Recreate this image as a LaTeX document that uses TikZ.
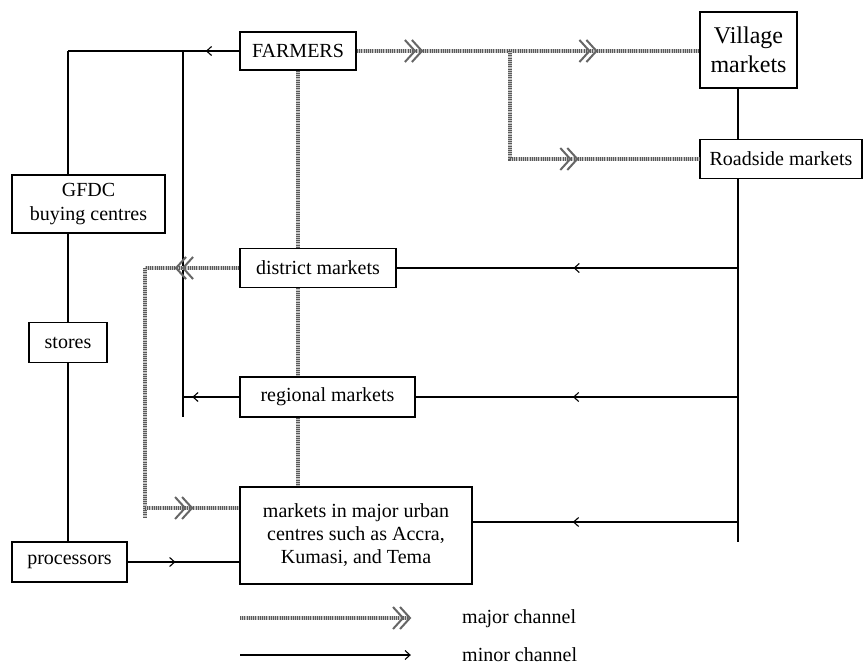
\documentclass[tikz,border=0pt]{standalone}
\usepackage{fontspec}
\setmainfont{Liberation Serif}
\usetikzlibrary{decorations.markings,arrows.meta}
\tikzset{
 box/.style={draw, line width=1.8pt, inner sep=0pt, align=center, font=\fontsize{20}{24}\selectfont},
 minor/.style={draw=black, line width=1.6pt},
 major/.style={draw=gray!45, line width=3.4pt, postaction={draw=black!65, line width=3.4pt, dash pattern=on 1pt off 1.2pt}},
 minarr/.style={postaction={decorate, decoration={markings, mark=at position #1 with {\draw[black, line width=1.1pt, solid] (-5pt,4.5pt) -- (0pt,0pt) -- (-5pt,-4.5pt);}}}},
 majarr/.style={postaction={decorate, decoration={markings, mark=at position #1 with {\draw[black!60, line width=2pt, solid] (-10pt,11pt) -- (0pt,0pt) -- (-10pt,-11pt) (-17pt,11pt) -- (-7pt,0pt) -- (-17pt,-11pt);}}}},
 legtext/.style={anchor=west, inner sep=0pt, font=\fontsize{20}{24}\selectfont},
}
\begin{document}
\begin{tikzpicture}[x=1pt,y=-1pt]
\useasboundingbox (0,0) rectangle (864,668);
% nodes
\node[box, minimum width=116pt, minimum height=38pt] (farmers) at (298,51) {FARMERS};
\node[box, minimum width=97pt, minimum height=76pt, font=\fontsize{24}{29}\selectfont] (village) at (748.5,50) {Village\\markets};
\node[box, minimum width=162pt, minimum height=39pt] (roadside) at (781,159) {Roadside markets};
\node[box, minimum width=153pt, minimum height=58pt] (gfdc) at (88.5,204) {GFDC\\buying centres};
\node[box, minimum width=78pt, minimum height=40pt] (stores) at (68,342.5) {stores};
\node[box, minimum width=115pt, minimum height=40pt] (processors) at (69.5,562) {processors};
\node[box, minimum width=156pt, minimum height=39pt] (district) at (318,268) {district markets};
\node[box, minimum width=175pt, minimum height=40pt] (regional) at (327.5,397) {regional markets};
\node[box, minimum width=232pt, minimum height=97pt, font=\fontsize{20}{23}\selectfont] (urban) at (356,535.5) {markets in major urban\\centres such as Accra,\\Kumasi, and Tema};
% helper coordinates
\coordinate (tl) at (68,51);
\coordinate (v2top) at (183,51);
\coordinate (v2bot) at (183,417);
\coordinate (rv) at (738,0);
\coordinate (rvend) at (738,542);
\coordinate (br) at (510,51);
\coordinate (fx) at (298,0);
\coordinate (lc1) at (145,268);
\coordinate (lc2) at (145,508);
\coordinate (lc3) at (145,518);
\coordinate (ue) at ([yshift=13.5pt]urban.east);
% minor channels
\draw[minor, minarr=0.19] (farmers.west) -- (tl);
\draw[minor] (tl) -- (tl |- gfdc.north);
\draw[minor] (v2top) -- (v2bot);
\draw[minor, minarr=0.82] (regional.west) -- (regional.west -| v2bot);
\draw[minor] (tl |- gfdc.south) -- (tl |- stores.north);
\draw[minor] (tl |- stores.south) -- (tl |- processors.north);
\draw[minor, minarr=0.42] (processors.east) -- (processors.east -| urban.west);
\draw[minor] (rv |- village.south) -- (rv |- roadside.north);
\draw[minor] (rv |- roadside.south) -- (rvend);
\draw[minor, minarr=0.48] (rv |- district.east) -- (district.east);
\draw[minor, minarr=0.51] (rv |- regional.east) -- (regional.east);
\draw[minor, minarr=0.62] (rv |- ue) -- (ue);
% major channels
\draw[major, majarr=0.19, majarr=0.7] (farmers.east) -- (farmers.east -| village.west);
\draw[major, majarr=0.59] (br) |- (roadside.west);
\draw[major] (farmers.south) -- (fx |- district.north);
\draw[major] (fx |- district.south) -- (fx |- regional.north);
\draw[major] (fx |- regional.south) -- (fx |- urban.north);
\draw[major, majarr=0.67] (district.west) -- (lc1);
\draw[major] (lc1) -- (lc3);
\draw[major, majarr=0.5] (lc2) -- (lc2 -| urban.west);
% legend
\coordinate (ma1) at (240,618);
\coordinate (ma2) at (410,618);
\coordinate (mi1) at (240,655);
\coordinate (mi2) at (410,655);
\draw[major, majarr=1] (ma1) -- (ma2);
\draw[minor, minarr=1] (mi1) -- (mi2);
\node[legtext] (majtxt) at (462,619) {major channel};
\node[legtext] (mintxt) at (462,655) {minor channel};
\end{tikzpicture}
\end{document}
